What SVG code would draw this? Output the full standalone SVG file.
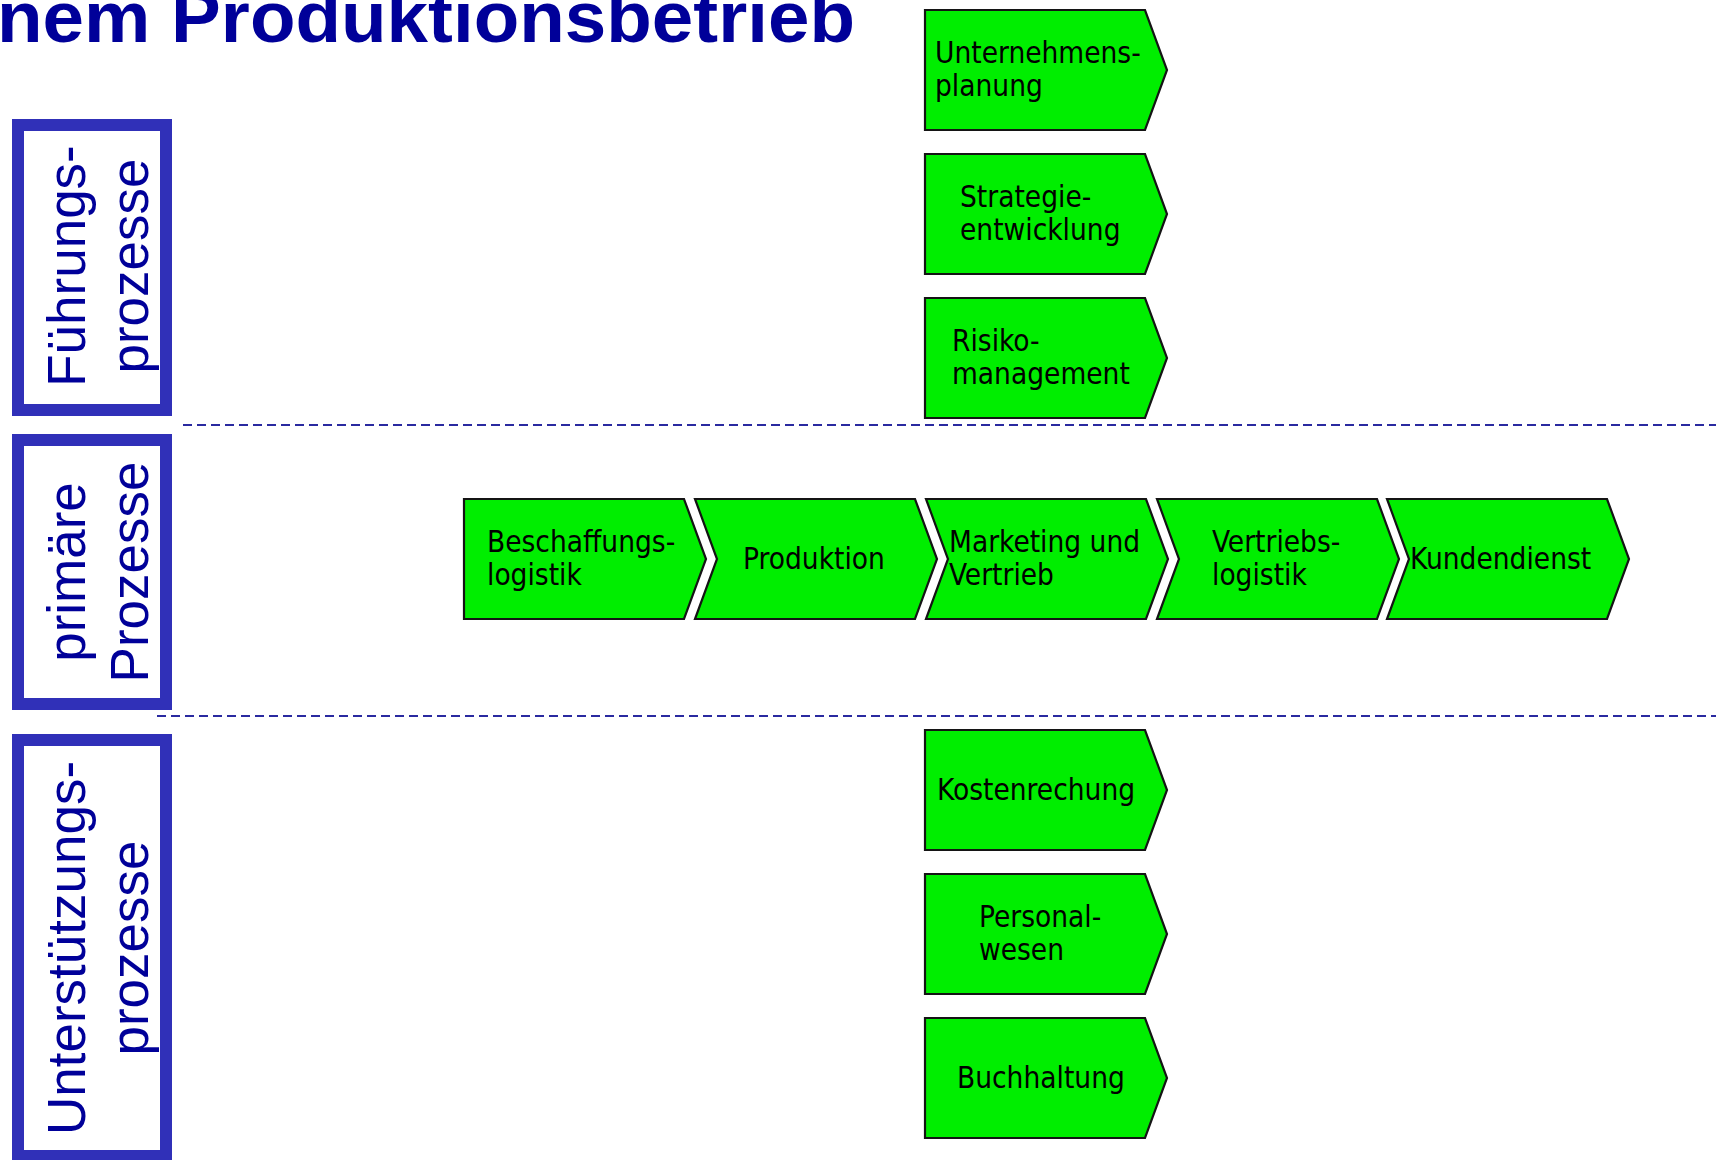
<svg xmlns="http://www.w3.org/2000/svg" xmlns:xlink="http://www.w3.org/1999/xlink" width="1716" height="1160" viewBox="0 0 1716 1160">
  <style>
    .title { font-family: "Liberation Sans", Arial, sans-serif; font-weight: bold; font-size: 73px; fill: #000099; }
    .band { fill: #ffffff; stroke: #3030b8; stroke-width: 12; }
    .bandtxt { font-family: "Liberation Sans", Arial, sans-serif; font-size: 53px; fill: #000099; text-anchor: middle; }
    .proc { fill: #00ee00; stroke: #141414; stroke-width: 2.2; stroke-linejoin: miter; }
    .lbl { font-family: "DejaVu Sans Condensed", "DejaVu Sans", sans-serif; font-stretch: condensed; font-size: 29.5px; fill: #000000; }
    .sep { stroke: #2a2aa0; stroke-width: 2; stroke-dasharray: 9 5; fill: none; }
  </style>
  <defs>
    <!-- process step shapes: 220 wide body, 22 deep point, 120 high -->
    <path id="step-plain" d="M0,0 H220 L242,60 L220,120 H0 Z"/>
    <path id="step-notch" d="M0,0 H220 L242,60 L220,120 H0 L22,60 Z"/>
  </defs>

  <rect width="1716" height="1160" fill="#ffffff"/>

  <text class="title" x="-3" y="42" textLength="858" lengthAdjust="spacingAndGlyphs">nem Produktionsbetrieb</text>

  <!-- process bands on the left -->
  <g id="band-fuehrung">
    <rect class="band" x="18" y="125" width="148" height="285"/>
    <text class="bandtxt" transform="translate(85,266) rotate(-90)">Führungs-</text>
    <text class="bandtxt" transform="translate(148,266) rotate(-90)">prozesse</text>
  </g>
  <g id="band-primaer">
    <rect class="band" x="18" y="440" width="148" height="264"/>
    <text class="bandtxt" transform="translate(85,572) rotate(-90)">primäre</text>
    <text class="bandtxt" transform="translate(148,572) rotate(-90)">Prozesse</text>
  </g>
  <g id="band-unterstuetzung">
    <rect class="band" x="18" y="740" width="148" height="416"/>
    <text class="bandtxt" transform="translate(85,948) rotate(-90)">Unterstützungs-</text>
    <text class="bandtxt" transform="translate(148,948) rotate(-90)">prozesse</text>
  </g>

  <!-- band separators -->
  <g id="connectors">
    <line class="sep" x1="183" y1="425" x2="1716" y2="425"/>
    <line class="sep" x1="157" y1="716" x2="1716" y2="716"/>
  </g>

  <!-- management processes -->
  <g id="unternehmensplanung">
    <use xlink:href="#step-plain" class="proc" x="925" y="10"/>
    <text class="lbl" x="935" y="63">Unternehmens-</text>
    <text class="lbl" x="935" y="96">planung</text>
  </g>
  <g id="strategieentwicklung">
    <use xlink:href="#step-plain" class="proc" x="925" y="154"/>
    <text class="lbl" x="960" y="207">Strategie-</text>
    <text class="lbl" x="960" y="240">entwicklung</text>
  </g>
  <g id="risikomanagement">
    <use xlink:href="#step-plain" class="proc" x="925" y="298"/>
    <text class="lbl" x="952" y="351">Risiko-</text>
    <text class="lbl" x="952" y="384">management</text>
  </g>

  <!-- primary value chain -->
  <g id="beschaffungslogistik">
    <use xlink:href="#step-plain" class="proc" x="464" y="499"/>
    <text class="lbl" x="487" y="552">Beschaffungs-</text>
    <text class="lbl" x="487" y="585">logistik</text>
  </g>
  <g id="produktion">
    <use xlink:href="#step-notch" class="proc" x="695" y="499"/>
    <text class="lbl" x="743" y="569">Produktion</text>
  </g>
  <g id="marketing-vertrieb">
    <use xlink:href="#step-notch" class="proc" x="926" y="499"/>
    <text class="lbl" x="949" y="552">Marketing und</text>
    <text class="lbl" x="949" y="585">Vertrieb</text>
  </g>
  <g id="vertriebslogistik">
    <use xlink:href="#step-notch" class="proc" x="1157" y="499"/>
    <text class="lbl" x="1212" y="552">Vertriebs-</text>
    <text class="lbl" x="1212" y="585">logistik</text>
  </g>
  <g id="kundendienst">
    <use xlink:href="#step-notch" class="proc" x="1387" y="499"/>
    <text class="lbl" x="1410" y="569">Kundendienst</text>
  </g>

  <!-- support processes -->
  <g id="kostenrechnung">
    <use xlink:href="#step-plain" class="proc" x="925" y="730"/>
    <text class="lbl" x="937" y="800">Kostenrechung</text>
  </g>
  <g id="personalwesen">
    <use xlink:href="#step-plain" class="proc" x="925" y="874"/>
    <text class="lbl" x="979" y="927">Personal-</text>
    <text class="lbl" x="979" y="960">wesen</text>
  </g>
  <g id="buchhaltung">
    <use xlink:href="#step-plain" class="proc" x="925" y="1018"/>
    <text class="lbl" x="957" y="1088">Buchhaltung</text>
  </g>
</svg>
